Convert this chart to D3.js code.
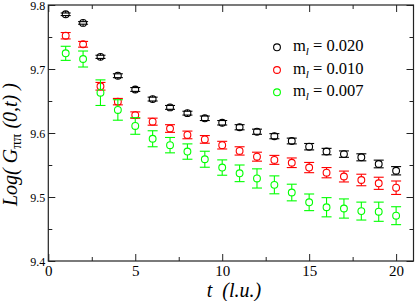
<!DOCTYPE html>
<html><head><meta charset="utf-8">
<script src="https://cdn.jsdelivr.net/npm/d3@7"></script>
<style>
html,body{margin:0;padding:0;background:#fff;}
svg{display:block;font-family:"Liberation Serif","DejaVu Serif",serif;}
text{white-space:pre;}
</style></head>
<body><svg id="c" width="415" height="301"></svg>
<script>
const tValues = [1,2,3,4,5,6,7,8,9,10,11,12,13,14,15,16,17,18,19,20];
const series020 = [9.7855,9.772,9.719,9.6895,9.668,9.653,9.640,9.631,9.623,9.616,9.609,9.602,9.595,9.5875,9.5786,9.571,9.567,9.562,9.5516,9.541];
const err020 = [0.002,0.002,0.0025,0.003,0.003,0.003,0.003,0.003,0.0035,0.0035,0.004,0.004,0.004,0.0045,0.005,0.005,0.005,0.0055,0.006,0.0065];
const series010 = [9.752,9.7386,9.673,9.649,9.628,9.6177,9.607,9.597,9.590,9.581,9.572,9.563,9.558,9.5535,9.546,9.538,9.532,9.5266,9.5214,9.5145];
const err010 = [0.005,0.0045,0.006,0.005,0.005,0.0055,0.006,0.006,0.006,0.006,0.0065,0.007,0.007,0.0075,0.008,0.008,0.0085,0.009,0.0095,0.0105];
const series007 = [9.7245,9.7156,9.663,9.636,9.611,9.591,9.581,9.571,9.559,9.546,9.537,9.529,9.519,9.507,9.4917,9.484,9.482,9.478,9.477,9.4708];
const err007 = [0.011,0.0125,0.02,0.016,0.013,0.0125,0.012,0.012,0.0125,0.012,0.013,0.015,0.014,0.013,0.013,0.015,0.015,0.014,0.015,0.014];
const seriesLabels = ["0.020","0.010","0.007"];
const seriesColors = ["#000000","#ff0000","#00ff00"];
const xTicks = [0,5,10,15,20];
const yTicks = [9.4,9.5,9.6,9.7,9.8];

const svg = d3.select("#c");
const L=48.3, R=413.5, T=5, B=261;
const x = d3.scaleLinear().domain([0,21]).range([L,R]);
const y = d3.scaleLinear().domain([9.4,9.8]).range([B,T]);

const series = [
  {vals:series020, errs:err020},
  {vals:series010, errs:err010},
  {vals:series007, errs:err007}
];

const ax = "#222";
function styleAxis(g){ g.select(".domain").remove(); g.selectAll("line").attr("stroke",ax).attr("stroke-width",1); }
const xMinor = [2.5,7.5,12.5,17.5];
const yMinor = [9.45,9.55,9.65,9.75];
const gb = svg.append("g").attr("transform",`translate(0,${B})`)
  .call(d3.axisBottom(x).tickValues(xTicks).tickSize(-7).tickPadding(4).tickFormat(d3.format("d")));
styleAxis(gb);
gb.selectAll("text").attr("font-size",15).attr("fill","#000").attr("font-family","Liberation Serif, serif");
svg.append("g").attr("transform",`translate(0,${B})`)
  .call(d3.axisBottom(x).tickValues(xMinor).tickSize(-4).tickFormat("")).call(styleAxis);
svg.append("g").attr("transform",`translate(0,${T})`)
  .call(d3.axisTop(x).tickValues(xTicks).tickSize(-7).tickFormat("")).call(styleAxis);
svg.append("g").attr("transform",`translate(0,${T})`)
  .call(d3.axisTop(x).tickValues(xMinor).tickSize(-4).tickFormat("")).call(styleAxis);
const gl = svg.append("g").attr("transform",`translate(${L},0)`)
  .call(d3.axisLeft(y).tickValues(yTicks).tickSize(-7).tickPadding(3).tickFormat(d3.format(".1f")));
styleAxis(gl);
gl.selectAll("text").attr("font-size",12).attr("fill","#000").attr("font-family","Liberation Serif, serif").attr("dy","0.35em");
svg.append("g").attr("transform",`translate(${L},0)`)
  .call(d3.axisLeft(y).tickValues(yMinor).tickSize(-4).tickFormat("")).call(styleAxis);
svg.append("g").attr("transform",`translate(${R},0)`)
  .call(d3.axisRight(y).tickValues(yTicks).tickSize(-7).tickFormat("")).call(styleAxis);
svg.append("g").attr("transform",`translate(${R},0)`)
  .call(d3.axisRight(y).tickValues(yMinor).tickSize(-4).tickFormat("")).call(styleAxis);
svg.append("rect").attr("x",L).attr("y",T).attr("width",R-L).attr("height",B-T)
  .attr("fill","none").attr("stroke",ax).attr("stroke-width",1.2);

const cap=5, r=3.4;
series.forEach((s,i)=>{
  const g = svg.append("g").attr("stroke",seriesColors[i]).attr("fill","none").attr("stroke-width",1.1);
  tValues.forEach((t,j)=>{
    const cx=x(t), v=s.vals[j], e=s.errs[j];
    const y1=y(v+e), y2=y(v-e);
    g.append("line").attr("x1",cx).attr("x2",cx).attr("y1",y1).attr("y2",y(v)-r);
    g.append("line").attr("x1",cx).attr("x2",cx).attr("y1",y(v)+r).attr("y2",y2);
    g.append("line").attr("x1",cx-cap).attr("x2",cx+cap).attr("y1",y1).attr("y2",y1);
    g.append("line").attr("x1",cx-cap).attr("x2",cx+cap).attr("y1",y2).attr("y2",y2);
    g.append("circle").attr("cx",cx).attr("cy",y(v)).attr("r",r);
  });
});

const legY=[47.3,70,92.3];
seriesLabels.forEach((lab,i)=>{
  svg.append("circle").attr("cx",277).attr("cy",legY[i]).attr("r",r)
    .attr("fill","none").attr("stroke",seriesColors[i]).attr("stroke-width",1.1);
  const tx = svg.append("text").attr("x",293).attr("y",legY[i]+4).attr("font-size",16.5).attr("fill","#000");
  tx.append("tspan").text("m");
  tx.append("tspan").attr("font-size",11).attr("font-style","italic").attr("dy",4).text("l");
  tx.append("tspan").attr("dy",-4).text(" = "+lab);
});

const xt = svg.append("text").attr("x",234).attr("y",296.5).attr("text-anchor","middle")
  .attr("font-size",20).attr("font-style","italic").attr("fill","#000");
xt.text("t  (l.u.)");
const yt = svg.append("text").attr("transform","translate(17,206) rotate(-90)")
  .attr("text-anchor","start").attr("font-size",20).attr("font-style","italic").attr("fill","#000");
yt.append("tspan").text("Log( G");
yt.append("tspan").attr("font-size",15).attr("font-style","normal").attr("dy",4).text("ππ");
yt.append("tspan").attr("dy",-4).text(" (0,");
yt.append("tspan").text("t");
yt.append("tspan").text(") )");
</script></body></html>
